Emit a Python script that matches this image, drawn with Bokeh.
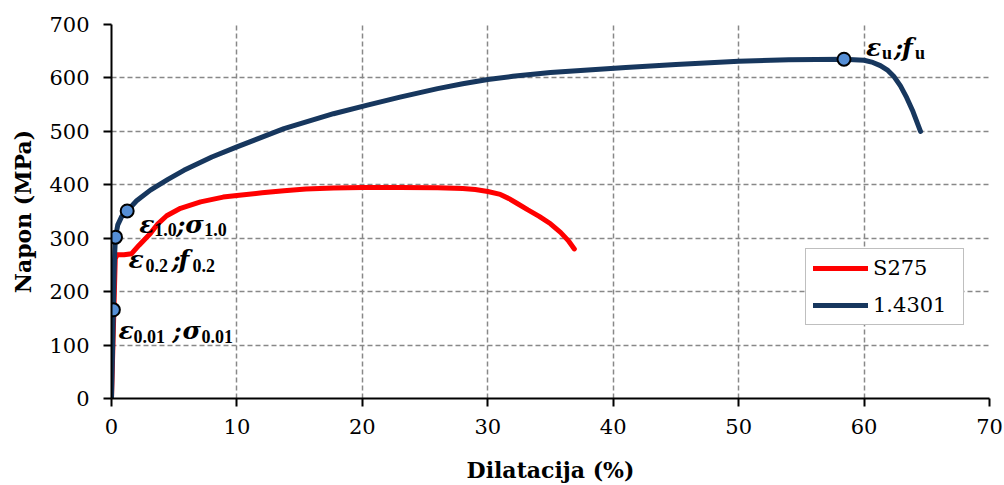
from bokeh.plotting import figure
from bokeh.models import Range1d, ColumnDataSource, Legend, LegendItem, FixedTicker
from bokeh.core.properties import value
from bokeh.embed import file_html
from bokeh.resources import INLINE

# ---------------- data ----------------
s275_strain = [0, 0.3, 0.45, 1.0, 1.6, 2.2, 3.1, 3.7, 4.4, 5.5, 7.1, 8.9, 10, 12, 13.75, 15.5,
               17.7, 20, 23, 26, 28, 29, 30, 31, 31.7, 32.35, 33.2, 34.1, 35, 35.8, 36.4, 36.9]
s275_stress = [0, 262, 269, 269, 271, 287, 309, 327, 342, 356, 368, 377, 380, 385, 389, 392,
               394, 395, 395, 394.5, 393, 391, 387.5, 382, 374, 365, 353, 341, 327, 311, 296, 280]

ss_strain = [0, 0.1, 0.15, 0.2, 0.26, 0.32, 0.5, 0.8, 1.25, 2.0, 3.1, 4.5, 5.77, 8, 10, 13.75,
             17.7, 20.4, 23, 26, 28, 30, 32, 35, 38, 41, 45, 50, 54, 58.4, 60, 60.7, 61.3, 61.9,
             62.4, 62.9, 63.4, 63.9, 64.5]
ss_stress = [0, 110, 166, 230, 275, 302, 325, 340, 351, 370, 390, 410, 427, 452, 471, 505,
             533, 549, 564, 580, 589, 597, 603, 610, 615, 619.5, 625, 631, 634, 635, 633, 629,
             623, 614, 602, 585, 563, 537, 500]

pt_strain = [0.15, 0.32, 1.25, 58.4]
pt_stress = [166, 302, 351, 635]

series_names = ["S275", "1.4301"]
x_ticks = [0, 10, 20, 30, 40, 50, 60, 70]
y_ticks = [0, 100, 200, 300, 400, 500, 600, 700]
x_label = "Dilatacija (%)"
y_label = "Napon (MPa)"

# ---------------- figure ----------------
p = figure(width=1004, height=485, output_backend="svg", toolbar_location=None,
           x_range=Range1d(0, 70), y_range=Range1d(0, 700),
           min_border_left=111, min_border_right=15, min_border_top=24, min_border_bottom=87)
p.outline_line_color = None
p.background_fill_color = "white"
p.border_fill_color = "white"

for ax, ticks in ((p.xaxis, x_ticks), (p.yaxis, y_ticks)):
    ax.ticker = FixedTicker(ticks=ticks)
    ax.axis_line_width = 2
    ax.axis_line_color = "black"
    ax.major_tick_line_width = 2
    ax.major_tick_line_color = "black"
    ax.major_tick_out = 8
    ax.major_tick_in = 0
    ax.minor_tick_line_color = None
    ax.major_label_text_font = "DejaVu Serif"
    ax.major_label_text_font_size = "21px"
    ax.major_label_text_color = "black"
    ax.axis_label_text_font = "DejaVu Serif"
    ax.axis_label_text_font_style = "bold"
    ax.axis_label_text_font_size = "22px"
    ax.axis_label_text_color = "black"

p.xaxis.axis_label = x_label
p.yaxis.axis_label = y_label
p.xaxis.major_label_standoff = 12
p.yaxis.major_label_standoff = 14
p.xaxis.axis_label_standoff = 20
p.yaxis.axis_label_standoff = 10

for g in (p.xgrid, p.ygrid):
    g.grid_line_color = "#888888"
    g.grid_line_width = 1.5
    g.grid_line_dash = "5 3"

r_red = p.line(s275_strain, s275_stress, line_color="#FF0000", line_width=5,
               line_cap="round", line_join="round")
r_blue = p.line(ss_strain, ss_stress, line_color="#17375E", line_width=5,
                line_cap="round", line_join="round")
p.scatter(pt_strain, pt_stress, size=13, fill_color="#558ED5", line_color="black",
          line_width=2)

# ---------------- point annotations (pieces placed relative to each point) ----------------
MAIN = ("DejaVu Serif", "25px", "bold italic")
SUB = ("Liberation Serif", "18px", "bold")
pieces = [
    # point index, text, dx, dy(down), kind
    (0, "ε", 5, 21, MAIN), (0, "0.01", 20, 27, SUB), (0, ";", 59, 21, MAIN),
    (0, "σ", 69, 21, MAIN), (0, "0.01", 88, 27, SUB),
    (1, "ε", 13, 22, MAIN), (1, "0.2", 30, 28, SUB), (1, ";", 56, 22, MAIN),
    (1, "f", 63, 22, MAIN), (1, "0.2", 77, 28, SUB),
    (2, "ε", 12, 14, MAIN), (2, "1.0", 27, 19, SUB), (2, ";", 49, 14, MAIN),
    (2, "σ", 58, 14, MAIN), (2, "1.0", 77, 19, SUB),
    (3, "ε", 22, -12, MAIN), (3, "u", 38, -6, SUB), (3, ";", 50, -12, MAIN),
    (3, "f", 58, -12, MAIN), (3, "u", 71, -6, SUB),
]
src = ColumnDataSource(dict(
    x=[pt_strain[i] for i, *_ in pieces],
    y=[pt_stress[i] for i, *_ in pieces],
    text=[t for _, t, *_ in pieces],
    dx=[dx for _, _, dx, _, _ in pieces],
    dy=[dy for _, _, _, dy, _ in pieces],
    font=[k[0] for *_, k in pieces],
    size=[k[1] for *_, k in pieces],
    style=[k[2] for *_, k in pieces],
))
p.text(x="x", y="y", text="text", x_offset="dx", y_offset="dy", source=src,
       text_font="font", text_font_size="size", text_font_style="style",
       text_baseline="alphabetic", text_align="left", text_color="black")

# ---------------- legend ----------------
legend = Legend(items=[LegendItem(label=series_names[0], renderers=[r_red]),
                       LegendItem(label=series_names[1], renderers=[r_blue])],
                location=(694, 73), orientation="vertical")
legend.border_line_color = "#7F7F7F"
legend.border_line_width = 1.5
legend.background_fill_color = "white"
legend.background_fill_alpha = 1.0
legend.padding = 7
legend.margin = 0
legend.spacing = 13
legend.glyph_width = 55
legend.glyph_height = 22
legend.label_height = 22
legend.label_width = 83
legend.label_standoff = 5
legend.label_text_font = "DejaVu Serif"
legend.label_text_font_size = "21px"
legend.label_text_color = "black"
legend.label_text_baseline = "middle"
p.add_layout(legend)

open("out.html", "w").write(file_html(p, INLINE))
